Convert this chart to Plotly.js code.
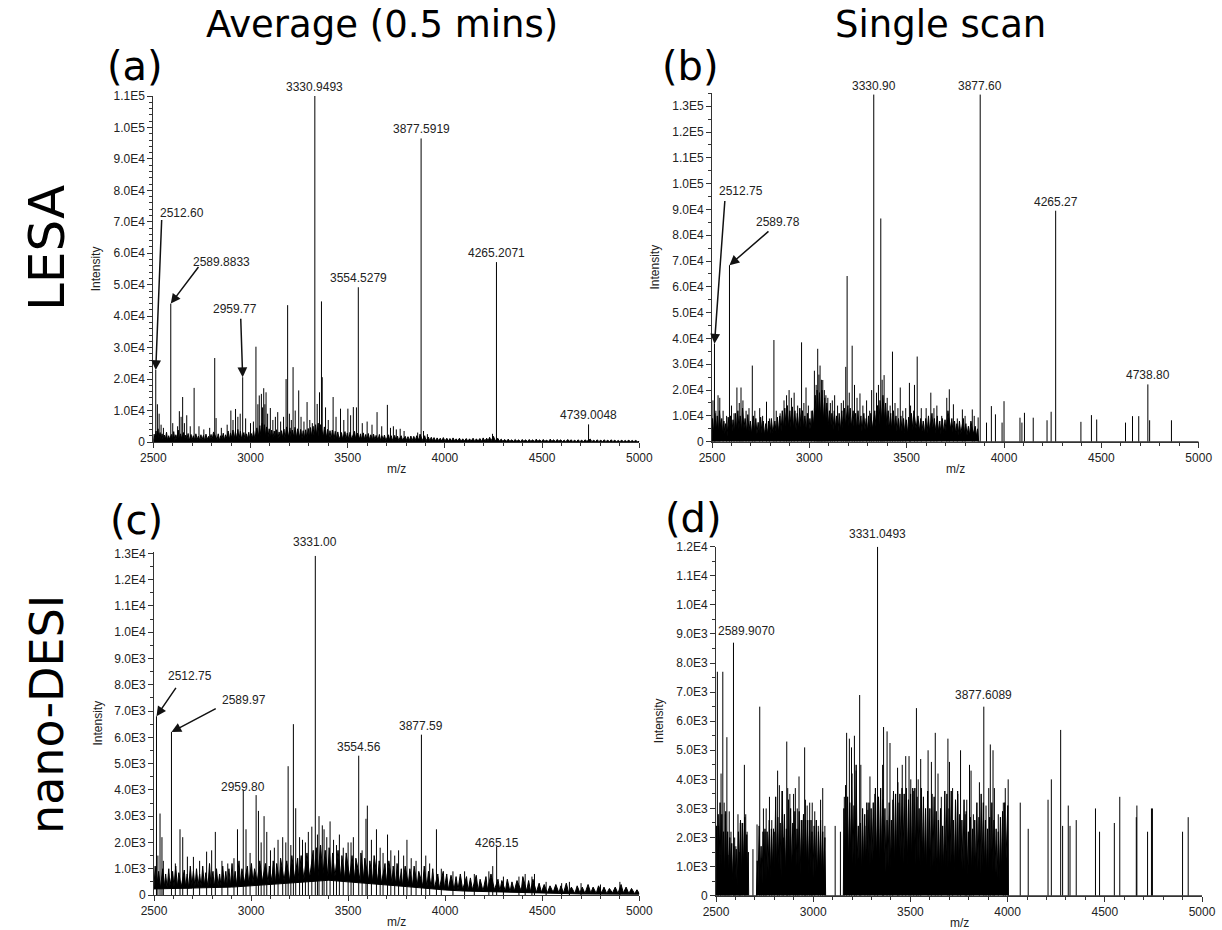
<!DOCTYPE html>
<html><head><meta charset="utf-8">
<script src="https://cdn.plot.ly/plotly-3.0.1.min.js"></script>
<style>html,body{margin:0;padding:0;background:#fff}#chart{width:1222px;height:930px}</style>
</head><body><div id="chart"></div>
<script>
// ================= DATA =================
const columnTitles = ['Average (0.5 mins)', 'Single scan'];
const rowTitles = ['LESA', 'nano-DESI'];
const panelTags = ['(a)', '(b)', '(c)', '(d)'];
const xTitle = 'm/z';
const yTitle = 'Intensity';

const xTickVals = [2500, 3000, 3500, 4000, 4500, 5000];
const xTickText = ['2500', '3000', '3500', '4000', '4500', '5000'];
const yTickValsA = [0,10000,20000,30000,40000,50000,60000,70000,80000,90000,100000,110000];
const yTickTextA = ['0','1.0E4','2.0E4','3.0E4','4.0E4','5.0E4','6.0E4','7.0E4','8.0E4','9.0E4','1.0E5','1.1E5'];
const yTickValsB = [0,10000,20000,30000,40000,50000,60000,70000,80000,90000,100000,110000,120000,130000];
const yTickTextB = ['0','1.0E4','2.0E4','3.0E4','4.0E4','5.0E4','6.0E4','7.0E4','8.0E4','9.0E4','1.0E5','1.1E5','1.2E5','1.3E5'];
const yTickValsC = [0,1000,2000,3000,4000,5000,6000,7000,8000,9000,10000,11000,12000,13000];
const yTickTextC = ['0','1.0E3','2.0E3','3.0E3','4.0E3','5.0E3','6.0E3','7.0E3','8.0E3','9.0E3','1.0E4','1.1E4','1.2E4','1.3E4'];
const yTickValsD = [0,1000,2000,3000,4000,5000,6000,7000,8000,9000,10000,11000,12000];
const yTickTextD = ['0','1.0E3','2.0E3','3.0E3','4.0E3','5.0E3','6.0E3','7.0E3','8.0E3','9.0E3','1.0E4','1.1E4','1.2E4'];

// peaks: [m/z, intensity]
const peaksA = [[2512.6,22900],[2521,12000],[2530,9000],[2540,5500],[2552,4500],[2589.8833,44000],[2600,6000],[2625,5000],[2634,9800],[2643,8000],[2651,14300],[2660,6000],[2672,8500],[2690,5000],[2710,17200],[2735,5000],[2760,4000],[2790,4500],[2816,26700],[2823,7600],[2850,4500],[2880,5500],[2899,10000],[2910,7000],[2923,10500],[2935,8000],[2947,9000],[2959.77,20600],[2975,7500],[3000,6000],[3015,6500],[3028,30300],[3038,12000],[3045,14800],[3056,15300],[3062,11000],[3068,17100],[3074,12000],[3080,15800],[3088,9000],[3102,10800],[3115,7000],[3128,8000],[3140,9500],[3155,6500],[3170,8000],[3183,20000],[3191,43500],[3200,9000],[3210,7000],[3219,23800],[3230,10000],[3248,16400],[3260,8000],[3275,6500],[3291,12700],[3305,7000],[3318,6000],[3330.9493,110000],[3343,12100],[3355,15800],[3365,44700],[3369,20600],[3386,11000],[3400,7000],[3425,14300],[3440,8000],[3463,10600],[3480,7000],[3501,10600],[3515,8500],[3529,11100],[3545,11000],[3554.5279,49200],[3575,6000],[3600,6500],[3625,5500],[3651,9500],[3675,5000],[3704,11800],[3720,4500],[3735,5000],[3750,4000],[3770,4200],[3790,3500],[3860,3000],[3877.5919,96500],[3890,3500],[3910,2500],[4245,2600],[4265.2071,57200],[4739.0048,5600]];

const peaksB = [[2505,16000],[2512.75,38000],[2520,12000],[2531,18000],[2540,17000],[2557,12000],[2575,10000],[2589.78,68400],[2600,14000],[2613,11000],[2628,21000],[2640,15000],[2649,21000],[2659,16000],[2675,12000],[2690,13000],[2707,29500],[2720,12000],[2745,13000],[2760,10000],[2780,15500],[2795,9000],[2818,39400],[2830,12000],[2850,11000],[2870,16000],[2883,18000],[2896,20000],[2908,17000],[2922,19000],[2940,14000],[2960,38500],[2972,15000],[2983,21000],[2995,14000],[3010,12000],[3026,27500],[3035,22000],[3043,36000],[3049,26000],[3055,29500],[3062,24000],[3069,23900],[3077,20000],[3085,18000],[3095,17000],[3108,15000],[3118,16000],[3130,18000],[3145,14000],[3164,15000],[3175,16000],[3187,29000],[3194,64200],[3205,19000],[3220,37200],[3232,22000],[3245,17000],[3260,18700],[3275,14000],[3294,16000],[3310,12000],[3320,20000],[3330.90,134500],[3345,19000],[3355,22000],[3367,86500],[3374,24000],[3384,25800],[3400,17000],[3415,14000],[3427,34900],[3440,15000],[3455,13000],[3467,21000],[3480,12000],[3495,13000],[3514,22800],[3520,14000],[3540,22000],[3554,33000],[3575,13000],[3600,13000],[3624,19000],[3640,13000],[3655,14000],[3680,10000],[3706,17000],[3719,20300],[3740,14500],[3760,9000],[3786,12500],[3800,10000],[3837,12500],[3847,10000],[3867,9400],[3877.60,134500],[3910,7400],[3935,13800],[3956,10600],[3990,7400],[4000,15700],[4082,9300],[4092,7400],[4105,11200],[4150,9300],[4221,8300],[4242,11600],[4265.27,89500],[4395,7700],[4449,10300],[4476,8600],[4624,7400],[4660,9900],[4692,9900],[4738.80,22200],[4748,8300],[4860,8300]];

const peaksC = [[2512.75,6800],[2520,1500],[2531,3100],[2541,2200],[2548,1300],[2589.97,6200],[2610,1200],[2634,2500],[2648,2200],[2672,1460],[2703,1450],[2735,1300],[2771,1650],[2797,1700],[2816,2400],[2850,1300],[2880,1200],[2912,1400],[2930,2500],[2959.80,4000],[2974,2500],[2995,1600],[3026,3800],[3038,3200],[3052,2000],[3067,3000],[3081,2400],[3100,1700],[3120,1800],[3139,2100],[3163,2200],[3179,2000],[3191,4900],[3205,1900],[3218,6500],[3230,3300],[3250,2200],[3265,2100],[3280,2000],[3295,2400],[3313,2600],[3331.00,12900],[3342,2300],[3350,3000],[3367,2650],[3376,2500],[3390,2200],[3407,2800],[3425,2100],[3440,1900],[3455,2300],[3475,1800],[3500,2000],[3515,2000],[3527,2200],[3554.56,5300],[3572,1700],[3592,2900],[3599,3400],[3620,2100],[3646,2500],[3665,1800],[3680,1600],[3703,2300],[3720,1700],[3740,1500],[3760,1700],[3786,1500],[3803,2100],[3825,1400],[3850,1300],[3877.59,6100],[3900,1500],[3920,1200],[3955,2500],[3980,1000],[4040,900],[4100,900],[4150,800],[4225,900],[4245,1100],[4265.15,1850],[4300,700],[4380,700],[4412,800],[4447,700],[4460,800],[4520,500],[4600,450],[4640,500],[4700,450],[4800,400],[4900,500]];

const peaksD = [[2507,7700],[2513,2400],[2522,1400],[2526,4200],[2535,7700],[2542,3200],[2548,2800],[2556,5450],[2562,1400],[2568,2900],[2577,2200],[2589.9070,8700],[2596,2000],[2602,1700],[2613,2800],[2620,1500],[2625,2500],[2634,2500],[2646,4500],[2653,2800],[2660,2200],[2690,1600],[2711,2450],[2725,6500],[2733,1300],[2744,3000],[2752,2200],[2758,3000],[2775,3400],[2787,2600],[2800,2200],[2817,4300],[2826,3800],[2840,3600],[2848,2000],[2864,5300],[2869,3700],[2880,3500],[2899,3500],[2908,3700],[2918,3000],[2927,4100],[2943,2600],[2956,5100],[2960,3300],[2969,3100],[2982,3200],[2990,2600],[2995,3200],[3008,2900],[3026,2400],[3038,3300],[3049,3700],[3060,2400],[3113,2400],[3140,2200],[3160,3400],[3172,5600],[3186,5400],[3197,5100],[3212,5500],[3221,4300],[3239,6900],[3245,4500],[3266,2400],[3281,2950],[3292,4100],[3317,3500],[3331.0493,12000],[3357,4500],[3362,5800],[3380,5650],[3395,5250],[3409,3300],[3434,4400],[3441,3200],[3458,4500],[3476,4800],[3493,4800],[3502,4000],[3517,3600],[3531,6450],[3540,4000],[3553,4700],[3591,5000],[3608,4600],[3628,5600],[3642,4200],[3659,3400],[3693,5400],[3701,4600],[3717,3700],[3744,3500],[3758,5000],[3782,2800],[3790,3300],[3804,4500],[3812,4300],[3824,2800],[3855,3900],[3877.6089,6500],[3889,3100],[3903,3700],[3911,5200],[3925,5000],[3932,3700],[3952,2800],[3978,3200],[3988,3700],[4003,4000],[4065,3200],[4106,2300],[4208,3300],[4225,4000],[4273,5700],[4283,2400],[4312,3100],[4321,2400],[4353,2600],[4452,3000],[4473,2200],[4549,2500],[4577,3400],[4662,2700],[4665,3100],[4720,2200],[4740,3000],[4745,3000],[4900,2200],[4929,2700]];

// baseline noise profiles: [m/z, intensity]
const noiseA = [[2500,0],[2504,2500],[2509,600],[2514,3500],[2518,900],[2524,4200],[2529,1200],[2535,3000],[2540,700],[2545,2600],[2551,500],[2557,2200],[2562,800],[2568,3100],[2573,600],[2579,2000],[2584,900],[2594,2400],[2599,700],[2605,3300],[2611,500],[2616,2300],[2622,900],[2628,3800],[2633,700],[2640,2600],[2646,1000],[2655,3000],[2661,600],[2667,2200],[2673,800],[2679,2700],[2685,500],[2694,2400],[2700,700],[2706,2000],[2713,600],[2719,2600],[2726,800],[2732,1900],[2739,500],[2745,2300],[2751,700],[2758,2100],[2764,400],[2771,2500],[2777,800],[2784,1800],[2790,600],[2797,2400],[2803,900],[2810,3200],[2828,700],[2834,2600],[2841,500],[2847,2000],[2853,900],[2860,2800],[2866,600],[2872,2300],[2879,1000],[2885,3500],[2891,700],[2897,2900],[2904,1200],[2910,3800],[2916,800],[2922,3300],[2929,1000],[2935,4000],[2941,900],[2948,3400],[2954,1100],[2966,3000],[2972,800],[2979,2600],[2985,1000],[2991,3100],[2997,700],[3004,2700],[3010,1200],[3016,3600],[3022,900],[3033,4500],[3040,1500],[3048,5200],[3053,1800],[3060,6000],[3066,2000],[3071,5500],[3077,1700],[3083,4800],[3090,1500],[3096,4200],[3103,1300],[3109,3800],[3115,1100],[3122,3500],[3128,1200],[3134,3900],[3141,900],[3147,3200],[3153,1000],[3160,3600],[3166,1200],[3172,4100],[3178,1000],[3186,4800],[3195,1500],[3203,4500],[3209,1300],[3215,3800],[3223,1500],[3229,4700],[3236,1200],[3242,4200],[3252,1400],[3258,4000],[3265,1100],[3271,3600],[3277,1200],[3284,3900],[3290,1000],[3297,4300],[3303,1300],[3309,4600],[3315,1500],[3322,5000],[3327,1800],[3335,5500],[3340,2000],[3348,6000],[3352,1800],[3360,5500],[3375,1600],[3380,4800],[3390,1300],[3396,4000],[3403,1100],[3409,3600],[3415,900],[3421,3800],[3430,1000],[3436,3400],[3443,900],[3449,3200],[3456,800],[3468,3000],[3474,900],[3486,3300],[3492,800],[3498,2900],[3506,700],[3512,3100],[3520,900],[3535,3400],[3541,1000],[3550,2800],[3560,900],[3566,2600],[3572,700],[3580,2900],[3587,800],[3593,2400],[3599,600],[3606,2700],[3612,700],[3619,2300],[3627,600],[3633,2500],[3640,700],[3646,2100],[3656,600],[3663,2400],[3669,500],[3676,2000],[3682,600],[3689,2200],[3696,500],[3710,2300],[3716,600],[3724,2000],[3730,500],[3742,2100],[3748,600],[3756,1900],[3762,500],[3775,2000],[3782,600],[3796,1800],[3803,500],[3810,1700],[3818,500],[3825,1900],[3832,400],[3840,1800],[3848,500],[3855,2000],[3866,600],[3872,2500],[3884,500],[3896,2000],[3903,400],[3915,1600],[3922,400],[3930,1500],[3937,400],[3944,1400],[3952,300],[3960,1300],[3968,400],[3976,1200],[3984,300],[3992,1400],[4000,300],[4010,1200],[4018,300],[4026,1100],[4034,300],[4042,1300],[4050,300],[4058,1000],[4066,300],[4075,1200],[4083,200],[4092,1000],[4100,300],[4110,1100],[4118,200],[4127,1000],[4135,300],[4145,1200],[4153,200],[4162,1000],[4170,300],[4180,1100],[4188,200],[4197,1300],[4205,300],[4215,1200],[4222,300],[4230,1500],[4238,400],[4250,1800],[4258,400],[4272,1200],[4280,300],[4290,900],[4298,200],[4308,800],[4316,200],[4326,900],[4334,200],[4344,700],[4352,200],[4362,800],[4370,200],[4380,700],[4388,100],[4398,800],[4406,200],[4416,700],[4424,100],[4434,800],[4442,200],[4452,700],[4460,100],[4470,900],[4478,200],[4488,700],[4496,100],[4506,800],[4514,200],[4524,600],[4532,100],[4542,900],[4550,200],[4560,700],[4568,100],[4578,800],[4586,200],[4596,700],[4604,100],[4614,600],[4622,100],[4632,800],[4640,200],[4650,700],[4658,100],[4668,600],[4676,100],[4686,700],[4694,100],[4704,600],[4712,100],[4722,700],[4730,200],[4748,900],[4756,100],[4766,600],[4774,100],[4784,700],[4792,100],[4802,600],[4810,100],[4820,700],[4828,100],[4838,600],[4846,100],[4856,700],[4864,100],[4874,600],[4882,100],[4892,500],[4900,100],[4910,600],[4918,100],[4928,500],[4936,100],[4946,600],[4954,100],[4964,500],[4972,100],[4982,500],[4990,100],[5000,200]];

const noiseB = [[2500,0],[2503,9000],[2508,3000],[2515,11000],[2522,4000],[2527,10000],[2534,3500],[2538,12000],[2545,5000],[2550,9000],[2555,2500],[2561,8000],[2566,3000],[2570,7000],[2578,2000],[2583,9500],[2590,3000],[2595,10000],[2603,4000],[2608,8500],[2615,3500],[2620,11000],[2626,4500],[2633,12000],[2638,5000],[2645,10000],[2652,4000],[2657,13000],[2664,5000],[2670,9000],[2678,3500],[2684,10500],[2690,4000],[2697,8000],[2703,3000],[2712,10000],[2718,3500],[2725,9000],[2731,3000],[2737,7500],[2744,2500],[2750,9500],[2757,3000],[2763,8000],[2770,2500],[2776,7000],[2785,3000],[2790,8000],[2798,3000],[2805,9000],[2812,3500],[2823,8000],[2830,3000],[2836,9500],[2842,3500],[2848,10000],[2855,4000],[2861,12000],[2867,5000],[2874,13000],[2880,6000],[2887,14000],[2893,5500],[2900,12000],[2906,5000],[2913,13500],[2918,5000],[2926,12000],[2932,4500],[2938,11000],[2945,5000],[2951,13000],[2957,5500],[2965,12000],[2970,5000],[2977,10000],[2985,4000],[2990,11000],[2998,4500],[3003,9000],[3010,4000],[3016,12000],[3021,6000],[3030,18000],[3036,9000],[3040,20000],[3047,10000],[3052,19000],[3058,9000],[3065,20000],[3072,8000],[3079,17000],[3084,7000],[3090,15000],[3097,6000],[3103,12000],[3110,5000],[3116,11000],[3122,4500],[3128,12000],[3135,5000],[3140,10000],[3148,4000],[3153,11000],[3160,4500],[3167,12000],[3172,5000],[3180,13000],[3185,6000],[3198,14000],[3203,6000],[3210,13000],[3215,5500],[3225,12000],[3230,5000],[3238,11000],[3243,4500],[3250,12000],[3256,5000],[3265,10000],[3270,4000],[3280,11000],[3286,4500],[3292,9000],[3298,4000],[3304,10000],[3311,4500],[3316,11000],[3324,5000],[3336,12000],[3342,6000],[3350,14000],[3358,7000],[3363,16000],[3371,8000],[3378,18000],[3386,8000],[3392,15000],[3398,6000],[3405,12000],[3410,5000],[3418,11000],[3423,4500],[3432,12000],[3437,5000],[3445,10000],[3450,4000],[3458,9000],[3463,3500],[3470,10000],[3476,4000],[3484,9000],[3490,3500],[3498,8500],[3505,3000],[3510,9500],[3517,4000],[3524,11000],[3532,4500],[3537,12000],[3548,5000],[3558,10000],[3565,4000],[3572,9000],[3578,3500],[3585,8000],[3592,3000],[3598,9000],[3605,3500],[3612,10000],[3618,4000],[3630,11000],[3636,4500],[3642,9000],[3650,3500],[3657,10000],[3663,4000],[3670,8000],[3676,3000],[3683,9000],[3690,3500],[3697,8500],[3702,4000],[3712,12000],[3725,5000],[3732,9000],[3738,3500],[3746,8000],[3752,3000],[3758,7000],[3764,2500],[3771,8000],[3778,3000],[3791,9000],[3797,3000],[3804,7000],[3810,2500],[3817,6000],[3823,2500],[3830,8000],[3842,3000],[3852,6000],[3858,2000],[3864,5000],[3870,0],[5000,0]];

const noiseC = [[2500,300],[2506,1100],[2514,350],[2524,900],[2533,250],[2545,1000],[2553,300],[2560,800],[2568,250],[2576,1000],[2582,350],[2596,900],[2603,300],[2612,1100],[2620,300],[2628,850],[2640,300],[2656,950],[2663,300],[2671,800],[2679,250],[2687,1100],[2695,350],[2703,900],[2711,300],[2719,1000],[2727,350],[2735,800],[2743,300],[2751,1100],[2759,350],[2767,850],[2778,300],[2786,1200],[2793,400],[2804,900],[2810,300],[2822,1000],[2830,350],[2838,800],[2846,300],[2854,1100],[2862,350],[2870,900],[2878,300],[2886,1000],[2894,350],[2902,1200],[2910,400],[2918,900],[2926,350],[2938,1300],[2945,400],[2953,1000],[2965,450],[2981,1100],[2988,400],[3002,1200],[3010,450],[3018,1000],[3032,500],[3045,1300],[3058,500],[3074,1200],[3088,450],[3094,1100],[3108,500],[3114,1300],[3126,450],[3132,1200],[3146,500],[3152,1400],[3170,550],[3184,1300],[3198,500],[3210,1500],[3225,600],[3240,1400],[3246,550],[3258,1500],[3272,600],[3288,1600],[3302,650],[3320,1700],[3326,700],[3336,1800],[3345,700],[3358,1900],[3370,750],[3382,1700],[3396,700],[3402,1800],[3414,650],[3420,1600],[3432,700],[3448,1700],[3462,650],[3468,1500],[3482,600],[3490,1600],[3508,650],[3520,1500],[3534,600],[3540,1400],[3562,550],[3566,1600],[3580,600],[3586,1400],[3606,550],[3612,1300],[3626,500],[3634,1500],[3652,500],[3660,1300],[3672,450],[3690,1200],[3697,450],[3710,1300],[3726,450],[3732,1100],[3746,400],[3752,1200],[3766,400],[3774,1000],[3780,350],[3794,1100],[3810,400],[3818,1000],[3832,350],[3840,1100],[3856,350],[3864,900],[3884,350],[3892,1100],[3906,300],[3914,900],[3928,300],[3936,1000],[3944,250],[3962,800],[3970,250],[3990,900],[3996,250],[4008,800],[4016,200],[4030,750],[4046,200],[4056,700],[4066,200],[4078,800],[4090,200],[4110,700],[4118,150],[4130,650],[4140,200],[4160,750],[4170,150],[4180,600],[4195,150],[4210,700],[4218,200],[4236,800],[4254,200],[4272,600],[4282,150],[4292,550],[4310,150],[4320,600],[4334,120],[4344,500],[4356,150],[4370,550],[4392,150],[4400,700],[4420,150],[4430,550],[4440,120],[4452,600],[4470,100],[4484,450],[4496,100],[4510,400],[4526,80],[4540,350],[4556,100],[4570,400],[4586,80],[4596,350],[4610,80],[4624,450],[4636,80],[4650,300],[4668,60],[4680,350],[4694,80],[4706,300],[4720,60],[4736,400],[4750,80],[4762,300],[4778,60],[4790,350],[4806,80],[4818,300],[4832,60],[4846,250],[4862,80],[4876,300],[4890,60],[4906,400],[4918,80],[4932,300],[4946,60],[4960,250],[4976,50],[4988,200],[5000,50]];
// lower edge of the (c) noise band
const noiseFloorC = [[2500,230],[2600,250],[2700,260],[2800,280],[2900,300],[3000,350],[3100,400],[3200,450],[3300,520],[3400,560],[3500,500],[3600,450],[3700,380],[3800,320],[3900,250],[4000,190],[4100,150],[4200,130],[4300,100],[4400,80],[4500,60],[4600,45],[4700,40],[4800,35],[4900,30],[5000,30]];

const noiseD = [[2500,0],[2503,2400],[2507,600],[2511,2800],[2516,900],[2521,3200],[2525,700],[2530,2800],[2534,1000],[2539,2200],[2544,500],[2550,2900],[2555,800],[2560,2200],[2565,600],[2571,2000],[2576,900],[2581,1800],[2586,400],[2592,1700],[2597,500],[2604,1600],[2609,300],[2615,2200],[2620,800],[2626,2600],[2631,700],[2637,2500],[2642,1000],[2648,2700],[2653,900],[2658,2100],[2663,600],[2666,1500],[2668,0],[2708,0],[2712,1200],[2716,300],[2722,2400],[2727,600],[2732,1700],[2737,400],[2742,2200],[2747,700],[2752,2300],[2757,500],[2763,2200],[2768,800],[2774,2600],[2779,600],[2785,2300],[2790,900],[2796,2300],[2801,500],[2807,3400],[2812,800],[2818,2700],[2823,1000],[2830,2500],[2835,600],[2841,3600],[2846,1100],[2852,2800],[2857,700],[2862,2300],[2867,900],[2873,3300],[2878,1000],[2884,3000],[2889,800],[2895,2500],[2900,1200],[2906,2900],[2911,900],[2917,2300],[2922,1000],[2928,2900],[2933,700],[2939,2600],[2944,1100],[2950,2800],[2955,800],[2961,2600],[2966,1000],[2972,2600],[2977,700],[2983,2600],[2988,900],[2994,2200],[2999,600],[3005,2400],[3010,800],[3016,2600],[3021,600],[3027,2200],[3032,900],[3038,2600],[3043,700],[3049,2200],[3054,500],[3060,2000],[3064,0],[3155,0],[3158,3000],[3162,900],[3167,3800],[3172,1200],[3177,3400],[3182,1000],[3188,3200],[3193,1300],[3199,4200],[3204,1100],[3210,3100],[3215,900],[3221,4500],[3226,1200],[3232,2400],[3237,800],[3243,2500],[3248,700],[3254,3000],[3259,1000],[3265,2800],[3270,900],[3276,3200],[3281,1100],[3287,3200],[3292,1000],[3298,3000],[3303,1200],[3309,3200],[3314,900],[3320,3700],[3326,1300],[3336,3400],[3341,1000],[3347,3700],[3352,1200],[3358,3300],[3363,1000],[3369,3000],[3374,800],[3380,2600],[3385,1000],[3391,3200],[3396,900],[3402,2600],[3407,1100],[3413,3600],[3418,1000],[3424,3500],[3429,1200],[3435,3900],[3440,1000],[3446,3500],[3451,1300],[3457,3700],[3462,1100],[3468,3500],[3473,1200],[3479,3700],[3484,1000],[3490,3300],[3495,1300],[3501,3500],[3506,1100],[3512,3700],[3517,1200],[3523,3700],[3528,1000],[3534,3400],[3539,1200],[3545,3000],[3550,900],[3556,3700],[3561,1100],[3567,3400],[3572,1000],[3578,3000],[3583,800],[3589,3600],[3594,1000],[3600,3000],[3605,800],[3611,3500],[3616,1000],[3622,3400],[3627,900],[3633,2900],[3638,700],[3644,2600],[3649,800],[3655,3000],[3660,600],[3666,2400],[3671,800],[3677,3600],[3682,1000],[3688,3500],[3693,900],[3699,3000],[3704,1100],[3710,3600],[3715,800],[3721,2600],[3726,700],[3732,3300],[3737,1000],[3743,3600],[3748,900],[3754,2800],[3759,700],[3765,2600],[3770,900],[3776,3300],[3781,800],[3787,2900],[3792,700],[3798,2200],[3803,500],[3809,2700],[3814,700],[3820,2300],[3825,600],[3831,2600],[3836,800],[3842,3200],[3847,900],[3853,2700],[3858,700],[3864,3500],[3869,1000],[3875,3200],[3880,800],[3886,2600],[3891,700],[3897,2300],[3902,600],[3908,2700],[3913,900],[3919,3200],[3924,800],[3930,2600],[3935,700],[3941,2300],[3946,600],[3952,2200],[3957,500],[3963,2700],[3968,800],[3974,2900],[3979,700],[3985,3200],[3990,900],[3996,2600],[4001,3100],[4004,0],[5000,0]];

// labelled peaks (text = m/z as printed)
const labelsA = ['2512.60','2589.8833','2959.77','3330.9493','3554.5279','3877.5919','4265.2071','4739.0048'];
const labelsB = ['2512.75','2589.78','3330.90','3877.60','4265.27','4738.80'];
const labelsC = ['2512.75','2589.97','2959.80','3331.00','3554.56','3877.59','4265.15'];
const labelsD = ['2589.9070','3331.0493','3877.6089'];

// ================= LAYOUT / STYLE =================
const W = 1222, H = 930;
const px = v => v / W, py = v => 1 - v / H;
const NUM = 'Liberation Sans, Arial, sans-serif';
const BIG = 'DejaVu Sans, Verdana, sans-serif';
const INK = '#222';

const panels = [
  {id:'', peaks:peaksA, noise:noiseA, floor:null, labels:labelsA, yv:yTickValsA, yt:yTickTextA, ymax:110000, minorY:2000, xPx:[153.3,639.3], yPx:[96,442]},
  {id:'2', peaks:peaksB, noise:noiseB, floor:null, labels:labelsB, yv:yTickValsB, yt:yTickTextB, ymax:135000, minorY:5000, xPx:[712,1198.7], yPx:[93.3,441.7]},
  {id:'3', peaks:peaksC, noise:noiseC, floor:noiseFloorC, labels:labelsC, yv:yTickValsC, yt:yTickTextC, ymax:13050, minorY:500, xPx:[154,639.3], yPx:[552,895]},
  {id:'4', peaks:peaksD, noise:noiseD, floor:null, labels:labelsD, yv:yTickValsD, yt:yTickTextD, ymax:12000, minorY:500, xPx:[716,1202], yPx:[546.7,895.7]}
];

const arrowLabels = {
  '0:2512.60':   {ax:6,    ay:-152,  dx:25.8, dy:157},
  '0:2589.8833': {ax:29.2, ay:-38.6, dx:51.2, dy:41.6},
  '0:2959.77':   {ax:-2,   ay:-60.5, dx:-7.7, dy:68.2},
  '1:2512.75':   {ax:10.5, ay:-144.6,dx:26.5, dy:152.9},
  '1:2589.78':   {ax:40.5, ay:-35.1, dx:48.2, dy:42.8},
  '2:2512.75':   {ax:20.8, ay:-30.4, dx:34,   dy:40.4},
  '2:2589.97':   {ax:45.8, ay:-24.2, dx:72.5, dy:31.9}
};
const labelOffsets = {'2:3331.00':14, '2:2959.80':3, '2:4265.15':3, '3:2589.9070':12, '3:3331.0493':13, '3:3877.6089':12};
const labelXShift = {'3:2589.9070':13};

const traces = [];
const layout = {
  width: W, height: H, margin:{l:0,r:0,t:0,b:0},
  paper_bgcolor:'#fff', plot_bgcolor:'rgba(0,0,0,0)',
  showlegend:false, hovermode:false,
  annotations: []
};

panels.forEach((p, i) => {
  const xa = 'x' + p.id, ya = 'y' + p.id;
  if (p.floor) {
    traces.push({x: p.floor.map(d => d[0]), y: p.floor.map(d => d[1]), type:'scatter', mode:'lines',
      xaxis:xa, yaxis:ya, line:{color:'#000', width:1}, hoverinfo:'skip'});
  }
  traces.push({
    x: p.noise.map(d => d[0]), y: p.noise.map(d => d[1]),
    type:'scatter', mode:'lines', xaxis:xa, yaxis:ya,
    line:{color:'#000', width:1}, fill: p.floor ? 'tonexty' : 'tozeroy', fillcolor:'#000', hoverinfo:'skip'
  });
  const sx = [], sy = [];
  p.peaks.forEach(d => { sx.push(d[0], d[0], null); sy.push(0, d[1], null); });
  traces.push({x:sx, y:sy, type:'scatter', mode:'lines', xaxis:xa, yaxis:ya,
    line:{color:'#000', width:1}, connectgaps:false, hoverinfo:'skip'});

  layout['xaxis' + p.id] = {
    domain:[px(p.xPx[0]), px(p.xPx[1])], range:[2500,5000], anchor:ya,
    tickmode:'array', tickvals:xTickVals, ticktext:xTickText,
    ticks:'outside', ticklen:5, tickwidth:1, tickcolor:'#333',
    showline:true, linecolor:'#333', linewidth:1, showgrid:false, zeroline:false,
    tickfont:{family:NUM, size:12, color:INK},
    minor:{tick0:2500, dtick:100, ticks:'outside', ticklen:3, tickwidth:1, tickcolor:'#333', showgrid:false},
    fixedrange:true
  };
  layout['yaxis' + p.id] = {
    domain:[py(p.yPx[1]), py(p.yPx[0])], range:[0, p.ymax], anchor:xa,
    tickmode:'array', tickvals:p.yv, ticktext:p.yt,
    ticks:'outside', ticklen:5, tickwidth:1, tickcolor:'#333',
    showline:true, linecolor:'#333', linewidth:1, showgrid:false, zeroline:false,
    tickfont:{family:NUM, size:12, color:INK},
    minor:{tick0:0, dtick:p.minorY, ticks:'outside', ticklen:3, tickwidth:1, tickcolor:'#333', showgrid:false},
    fixedrange:true
  };

  const xmid = (p.xPx[0] + p.xPx[1]) / 2, ymid = (p.yPx[0] + p.yPx[1]) / 2;
  layout.annotations.push({text:yTitle, xref:'paper', yref:'paper', x:px(p.xPx[0] - 57), y:py(ymid),
    textangle:-90, showarrow:false, xanchor:'center', yanchor:'middle', font:{family:NUM, size:12, color:INK}});
  layout.annotations.push({text:xTitle, xref:'paper', yref:'paper', x:px(xmid), y:py(p.yPx[1] + 27),
    showarrow:false, xanchor:'center', yanchor:'middle', font:{family:NUM, size:12, color:INK}});

  p.labels.forEach(lbl => {
    const mz = parseFloat(lbl);
    const pk = p.peaks.find(d => Math.abs(d[0] - mz) < 0.01);
    const key = i + ':' + lbl;
    const arr = arrowLabels[key];
    if (arr) {
      layout.annotations.push({x:pk[0], y:pk[1], xref:xa, yref:ya, text:' ', showarrow:true,
        ax:arr.ax, ay:arr.ay, arrowhead:2, arrowsize:1.3, arrowwidth:1.5, arrowcolor:'#111', standoff:0,
        font:{size:1}});
      layout.annotations.push({x:pk[0], y:pk[1], xref:xa, yref:ya, text:lbl, showarrow:false,
        xanchor:'center', yanchor:'middle', xshift:arr.dx, yshift:arr.dy, font:{family:NUM, size:12, color:INK}});
    } else {
      const off = labelOffsets[key] !== undefined ? labelOffsets[key] : 9;
      layout.annotations.push({x:pk[0], y:pk[1], xref:xa, yref:ya, text:lbl, showarrow:false,
        xanchor:'center', yanchor:'middle', xshift:labelXShift[key] || 0, yshift:off,
        font:{family:NUM, size:12, color:INK}});
    }
  });
});

const bigText = [
  {text:columnTitles[0], x:382, y:25, size:37, angle:0},
  {text:columnTitles[1], x:940, y:25, size:37, angle:0},
  {text:rowTitles[0], x:47, y:248, size:50, angle:-90},
  {text:rowTitles[1], x:47, y:715, size:46, angle:-90},
  {text:panelTags[0], x:135, y:66, size:40, angle:0},
  {text:panelTags[1], x:691, y:66, size:40, angle:0},
  {text:panelTags[2], x:136, y:520, size:40, angle:0},
  {text:panelTags[3], x:693, y:518, size:40, angle:0}
];
bigText.forEach(t => layout.annotations.push({text:t.text, xref:'paper', yref:'paper', x:px(t.x), y:py(t.y),
  showarrow:false, xanchor:'center', yanchor:'middle', textangle:t.angle, font:{family:BIG, size:t.size, color:'#000'}}));

Plotly.newPlot('chart', traces, layout, {staticPlot:true, displayModeBar:false});
</script>
</body></html>
